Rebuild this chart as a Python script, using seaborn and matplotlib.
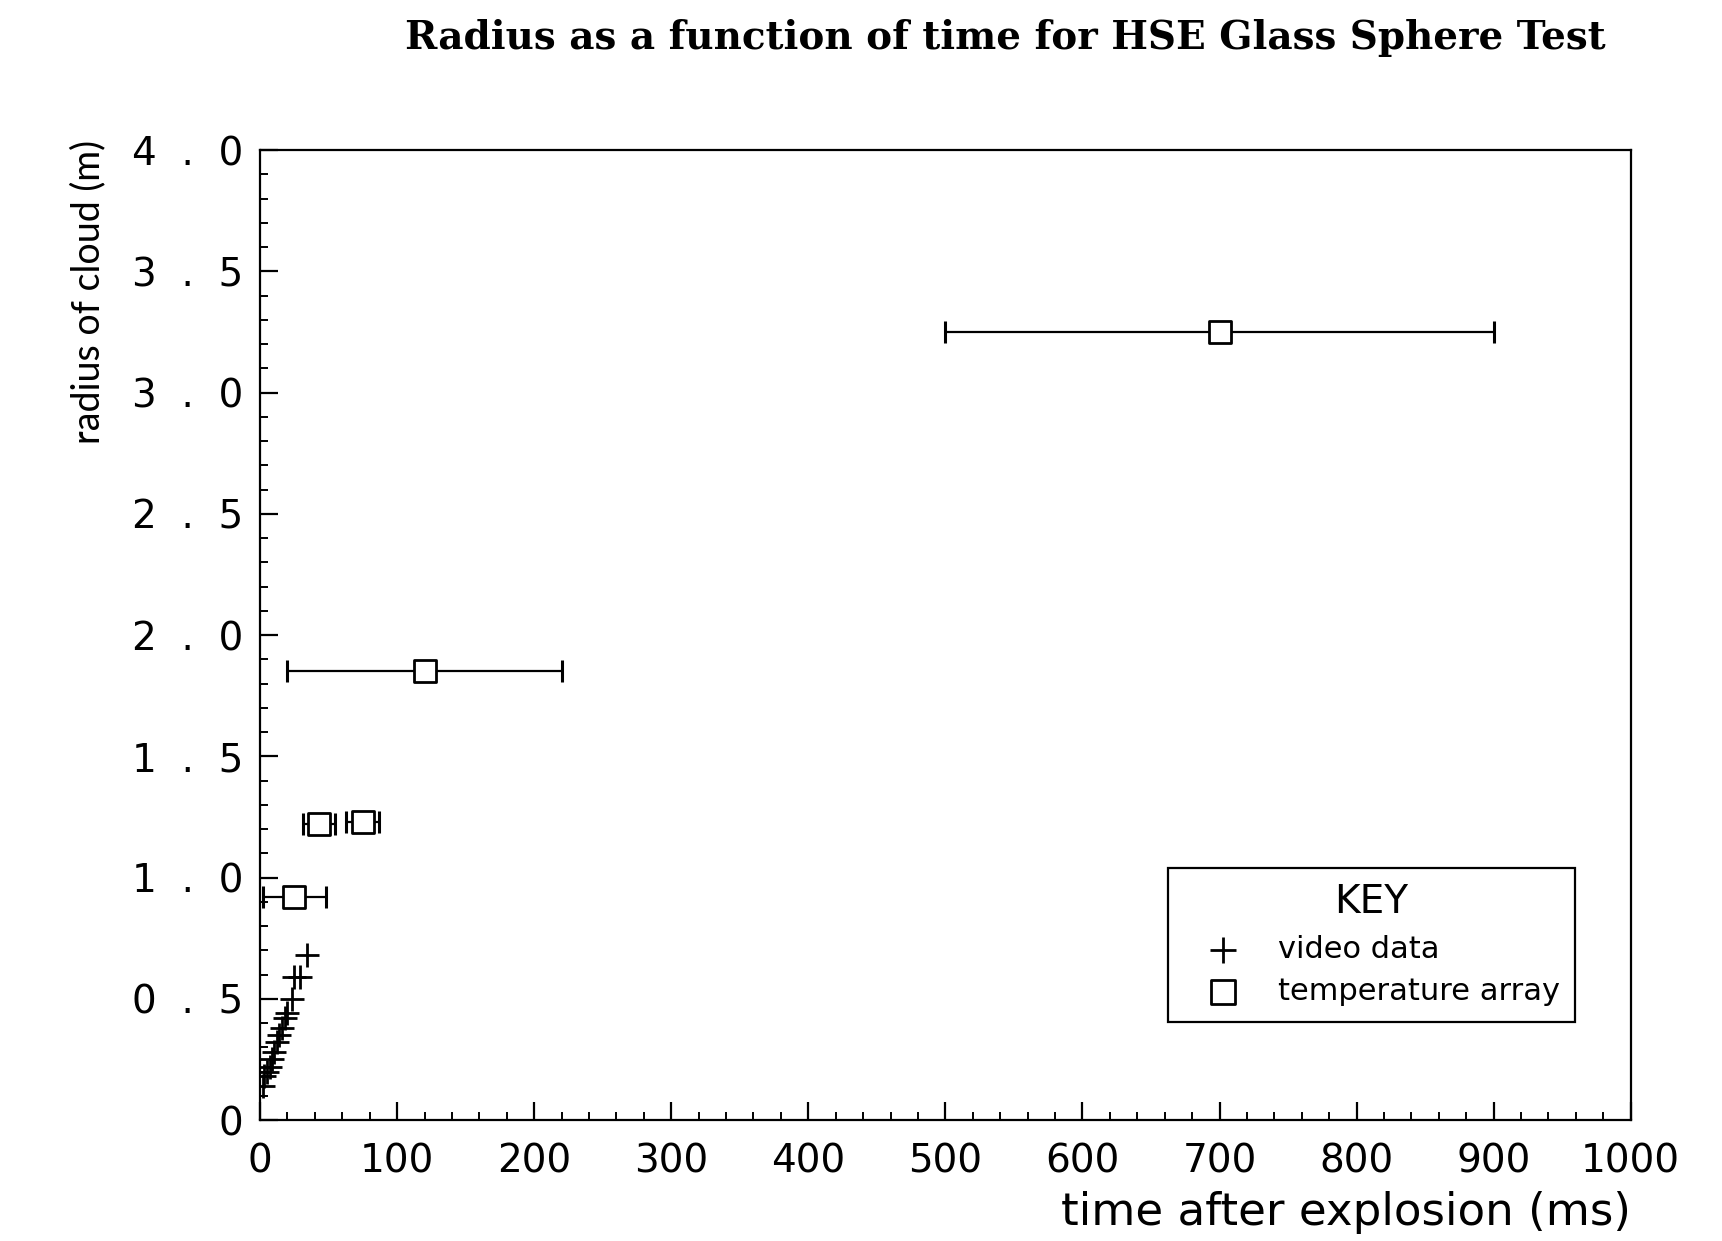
import matplotlib
matplotlib.use("Agg")
import matplotlib.pyplot as plt
import seaborn as sns
import pandas as pd

# Video measurements of the cloud front
video_time_ms = [2, 3, 5, 7, 9, 10.5, 12.5, 14, 16, 18, 20, 23, 25, 29.5, 34]
video_radius_m = [0.14, 0.18, 0.20, 0.22, 0.25, 0.28, 0.32, 0.35, 0.38, 0.42, 0.44, 0.50, 0.59, 0.59, 0.68]

# Temperature-array arrival estimates with timing uncertainty
temp_time_ms = [25, 43, 75, 120, 700]
temp_time_err_ms = [23, 12, 12, 100, 200]
temp_radius_m = [0.92, 1.22, 1.23, 1.85, 3.25]

x_tick_values = [0, 100, 200, 300, 400, 500, 600, 700, 800, 900, 1000]
x_tick_labels = ["0", "100", "200", "300", "400", "500", "600", "700", "800", "900", "1000"]
y_tick_values = [0, 0.5, 1.0, 1.5, 2.0, 2.5, 3.0, 3.5, 4.0]
y_tick_labels = ["0", "0  .  5", "1  .  0", "1  .  5", "2  .  0", "2  .  5", "3  .  0", "3  .  5", "4  .  0"]

title_text = "Radius as a function of time for HSE Glass Sphere Test"
x_label = "time after explosion (ms)"
y_label = "radius of cloud (m)"
key_title = "KEY"
video_label = "video data"
temp_label = "temperature array"

video_df = pd.DataFrame({"time": video_time_ms, "radius": video_radius_m})
temp_df = pd.DataFrame({"time": temp_time_ms, "err": temp_time_err_ms, "radius": temp_radius_m})

sns.set_theme(style="ticks")
plt.rcParams["font.family"] = ["DejaVu Sans"]
plt.rcParams["axes.linewidth"] = 1.6
for key in ("text.color", "axes.labelcolor", "xtick.color", "ytick.color", "axes.edgecolor"):
    plt.rcParams[key] = "black"

fig = plt.figure(figsize=(17.22, 12.41), dpi=100)
ax = fig.add_axes([0.151, 0.0975, 0.796, 0.7815])

# horizontal timing uncertainty on the temperature-array points
ax.errorbar(temp_df["time"], temp_df["radius"], xerr=temp_df["err"], fmt="none",
            ecolor="black", elinewidth=1.6, capsize=8, capthick=2.2, zorder=2)

sns.scatterplot(data=temp_df, x="time", y="radius", ax=ax, marker="s", s=260,
                facecolor="white", edgecolor="black", linewidth=2.0,
                label=temp_label, zorder=3)
sns.scatterplot(data=video_df, x="time", y="radius", ax=ax, marker="+", s=300,
                color="black", linewidth=2.0, label=video_label, zorder=3)

ax.set_xlim(0, 1000)
ax.set_ylim(0, 4.0)
ax.set_xticks(x_tick_values)
ax.set_xticklabels(x_tick_labels)
ax.set_yticks(y_tick_values)
ax.set_yticklabels(y_tick_labels)
ax.set_xticks([v for v in range(0, 1001, 20)], minor=True)
ax.set_yticks([i / 10 for i in range(0, 41)], minor=True)

ax.tick_params(axis="both", which="major", direction="in", length=13, width=1.6,
               labelsize=28, colors="black")
ax.tick_params(axis="x", which="major", pad=16)
ax.tick_params(axis="y", which="major", pad=12)
ax.tick_params(axis="both", which="minor", direction="in", length=6, width=1.4)
ax.tick_params(top=False, right=False, which="both")

for spine in ax.spines.values():
    spine.set_visible(True)
    spine.set_color("black")
    spine.set_linewidth(1.6)

ax.set_xlabel("")
ax.set_ylabel("")
fig.text(0.947, 0.006, x_label, ha="right", va="bottom", fontsize=32.5)
fig.text(0.051, 0.765, y_label, ha="center", va="center", rotation=90, fontsize=27,
         family=["Lato", "DejaVu Sans"])
fig.text(0.584, 0.969, title_text, ha="center", va="center", fontsize=28,
         fontweight="bold", family=["DejaVu Serif"])

handles, labels = ax.get_legend_handles_labels()
order = [labels.index(video_label), labels.index(temp_label)]
leg = ax.legend([handles[i] for i in order], [labels[i] for i in order],
                title=key_title, loc="upper left", bbox_to_anchor=(0.651, 0.276),
                frameon=True, fancybox=False, edgecolor="black", fontsize=22,
                title_fontsize=28, borderpad=0.5, labelspacing=0.45,
                handlelength=2.6, handletextpad=0.5, markerscale=1.1)
leg.get_frame().set_linewidth(1.6)
leg.get_frame().set_facecolor("white")
leg.get_frame().set_alpha(1)

fig.savefig("out.png", dpi=100, facecolor="white")
